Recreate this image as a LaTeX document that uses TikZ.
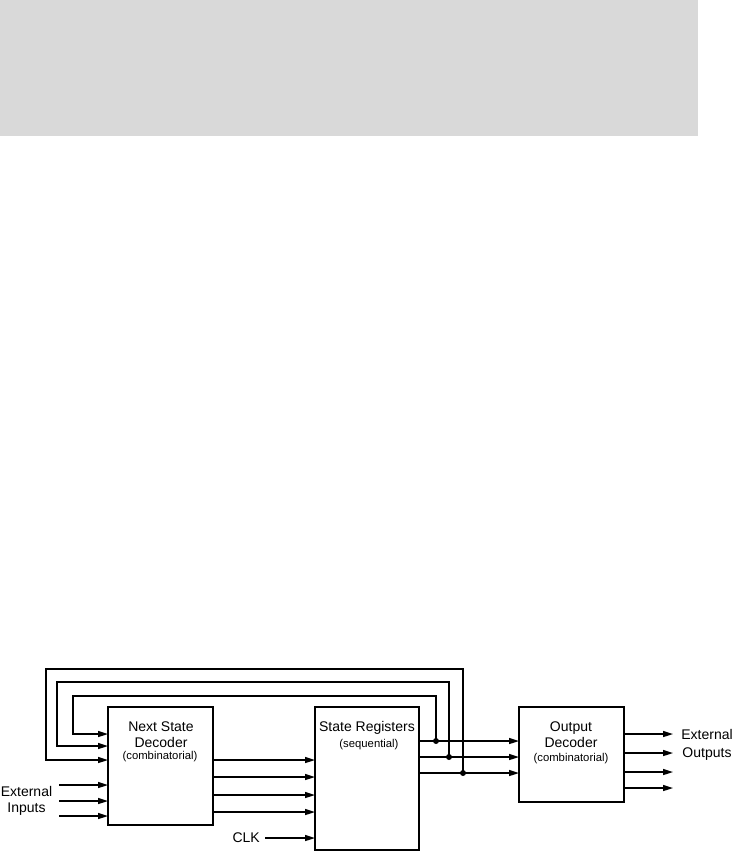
\documentclass[tikz,border=0pt]{standalone}
\usepackage{fontspec}
\setmainfont{Liberation Sans}
\usetikzlibrary{arrows.meta}
\begin{document}
\begin{tikzpicture}[x=1pt,y=-1pt,
  box/.style={draw,line width=1.4pt,inner sep=0pt},
  wire/.style={line width=1.5pt},
  arr/.style={wire,-{Triangle[length=10pt,width=6pt]}},
  big/.style={font=\fontsize{14}{16}\selectfont,inner sep=0pt},
  small/.style={font=\fontsize{11.3}{13}\selectfont,inner sep=0pt},
  dot/.style={circle,fill,inner sep=0pt,minimum size=6pt}]
\useasboundingbox (0,0) rectangle (738,852);
\fill[black!15] (0,0) rectangle (698,136);

% boxes
\node[box,minimum width=105pt,minimum height=118pt] (nsd) at (160.5,766) {};
\node[box,minimum width=104pt,minimum height=143pt] (sr) at (367,778.5) {};
\node[box,minimum width=105pt,minimum height=95pt] (od) at (571.5,754.5) {};

% box texts
\node[big] (nsd1) at (161,727) {Next State};
\node[big] (nsd2) at (161,742) {Decoder};
\node[small] (nsd3) at (160,757) {(combinatorial)};
\node[big] (sr1) at (367,728) {State Registers};
\node[small] (sr2) at (369,745) {(sequential)};
\node[big] (od1) at (571,728) {Output};
\node[big] (od2) at (571,742) {Decoder};
\node[small] (od3) at (571,759) {(combinatorial)};

% external inputs
\node[big,align=center] (extin) at (26.5,801) {External\\Inputs};
\foreach \y/\n in {785/a,801/b,816/c}{
  \coordinate (in\n) at (59,\y);
  \coordinate (ine\n) at (108,\y);
  \draw[arr] (in\n) -- (ine\n);
}

% NSD -> SR
\foreach \y/\n in {760/a,777/b,795/c,812/d}{
  \coordinate (ns\n) at (213,\y);
  \coordinate (nse\n) at (315,\y);
  \draw[arr] (ns\n) -- (nse\n);
}

% CLK
\node[big,anchor=east] (clk) at (260,838) {CLK};
\coordinate (clks) at (265,838);
\coordinate (clke) at (315,838);
\draw[arr] (clks) -- (clke);

% SR -> OD with taps
\foreach \y/\x/\n in {741/436/1,757/449/2,773/463/3}{
  \coordinate (s\n) at (419,\y);
  \coordinate (d\n) at (\x,\y);
  \coordinate (o\n) at (519,\y);
  \draw[arr] (s\n) -- (o\n);
  \node[dot] (dot\n) at (d\n) {};
}

% feedback loops
\coordinate (fa1) at (436,696); \coordinate (fb1) at (73,696); \coordinate (fc1) at (73,734); \coordinate (fe1) at (108,734);
\coordinate (fa2) at (449,682); \coordinate (fb2) at (57,682); \coordinate (fc2) at (57,746); \coordinate (fe2) at (108,746);
\coordinate (fa3) at (463,669); \coordinate (fb3) at (46,669); \coordinate (fc3) at (46,760); \coordinate (fe3) at (108,760);
\draw[arr] (d1) -- (fa1) -- (fb1) -- (fc1) -- (fe1);
\draw[arr] (d2) -- (fa2) -- (fb2) -- (fc2) -- (fe2);
\draw[arr] (d3) -- (fa3) -- (fb3) -- (fc3) -- (fe3);

% outputs
\foreach \y/\n in {734/a,753/b,772/c,788/d}{
  \coordinate (os\n) at (624,\y);
  \coordinate (out\n) at (673,\y);
  \draw[arr] (os\n) -- (out\n);
}
\node[big,align=center,font=\fontsize{14}{18}\selectfont] (extout) at (707,745) {External\\Outputs};
\end{tikzpicture}
\end{document}
